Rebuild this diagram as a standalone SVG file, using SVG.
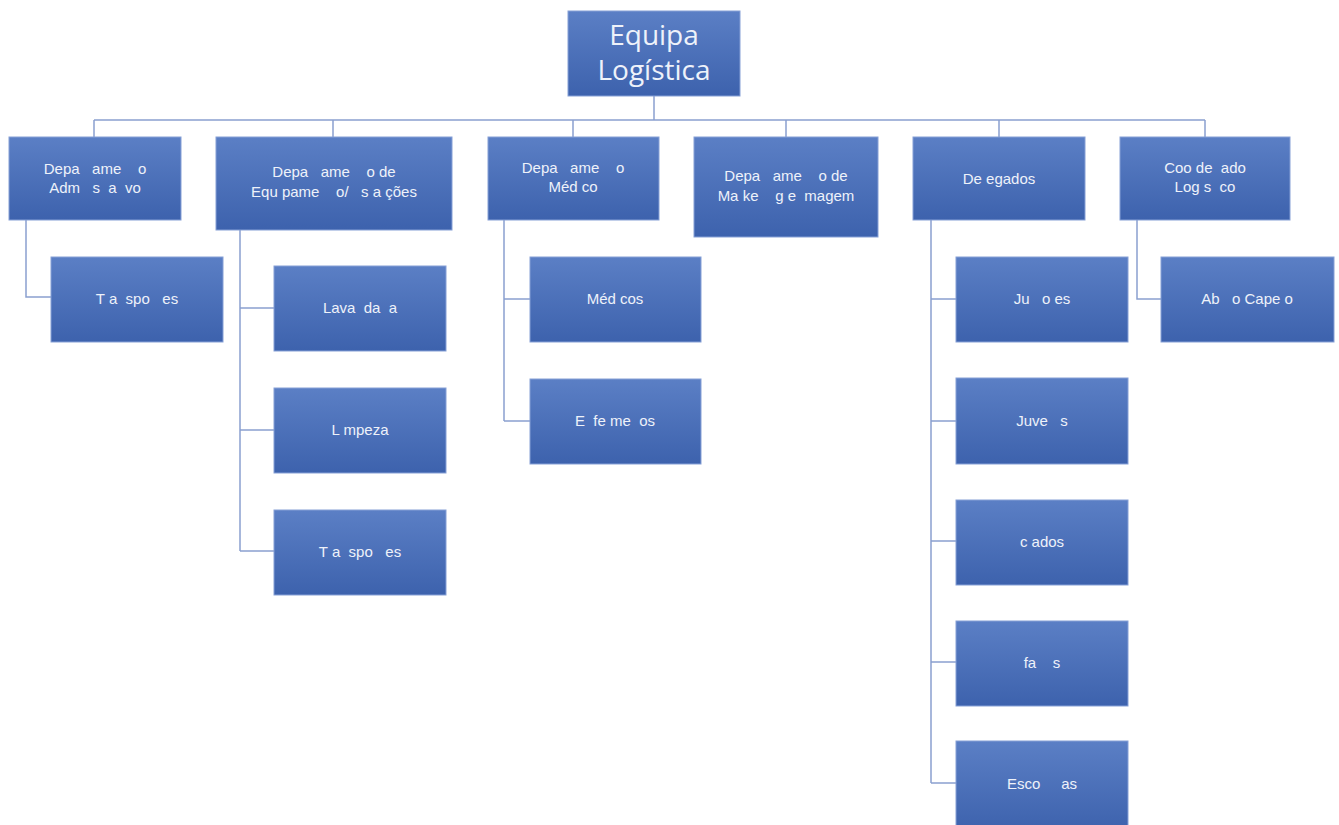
<svg xmlns="http://www.w3.org/2000/svg" width="1339" height="825" viewBox="0 0 1339 825">
<defs>
<linearGradient id="g" x1="0" y1="0" x2="0" y2="1">
<stop offset="0" stop-color="#5b7fc5"/>
<stop offset="1" stop-color="#3d62ad"/>
</linearGradient>
<style>
.box{fill:url(#g);stroke:#86a0d6;stroke-width:1}
.t{font-family:"Liberation Sans",Arial,sans-serif;font-size:15px;fill:#eef2fa;text-anchor:middle;white-space:pre}
.big{font-family:"Open Sans","Liberation Sans",sans-serif;font-size:28px;fill:#eef2fa;text-anchor:middle}
.c{fill:none;stroke:#8aa0d0;stroke-width:1.5}
</style>
</defs>
<rect width="1339" height="825" fill="#ffffff"/>
<g id="connectors">
<path class="c" d="M654 96V120M94 120H1205M94 120V137M333 120V137M573 120V137M786 120V137M999 120V137M1205 120V137"/>
<path class="c" d="M26 220V297H51"/>
<path class="c" d="M240 230V551M240 308H274M240 430H274M240 551H274"/>
<path class="c" d="M504 220V421M504 299H530M504 421H530"/>
<path class="c" d="M931 220V783M931 299H956M931 421H956M931 541H956M931 662H956M931 783H956"/>
<path class="c" d="M1137 220V299H1161"/>
</g>
<g id="root"><rect class="box" x="568" y="11" width="172" height="85"/><text class="big" x="654" y="45">Equipa</text><text class="big" x="654" y="80">Logística</text></g>
<g id="n1"><rect class="box" x="9" y="137" width="172" height="83"/><text class="t" x="95" y="174">Depa   ame    o</text><text class="t" x="95" y="193">Adm   s  a  vo</text></g>
<g id="n2"><rect class="box" x="216" y="137" width="236" height="93"/><text class="t" x="334" y="177">Depa   ame    o de</text><text class="t" x="334" y="197">Equ pame    o/   s a ções</text></g>
<g id="n3"><rect class="box" x="488" y="137" width="171" height="83"/><text class="t" x="573" y="173">Depa   ame    o</text><text class="t" x="573" y="192">Méd co</text></g>
<g id="n4"><rect class="box" x="694" y="137" width="184" height="100"/><text class="t" x="786" y="181">Depa   ame    o de</text><text class="t" x="786" y="201">Ma ke    g e  magem</text></g>
<g id="n5"><rect class="box" x="913" y="137" width="172" height="83"/><text class="t" x="999" y="184">De egados</text></g>
<g id="n6"><rect class="box" x="1120" y="137" width="170" height="83"/><text class="t" x="1205" y="173">Coo de  ado</text><text class="t" x="1205" y="192">Log s  co</text></g>
<g id="n1a"><rect class="box" x="51" y="257" width="172" height="85"/><text class="t" x="137" y="304">T a  spo   es</text></g>
<g id="n2a"><rect class="box" x="274" y="266" width="172" height="85"/><text class="t" x="360" y="313">Lava  da  a</text></g>
<g id="n2b"><rect class="box" x="274" y="388" width="172" height="85"/><text class="t" x="360" y="435">L mpeza</text></g>
<g id="n2c"><rect class="box" x="274" y="510" width="172" height="85"/><text class="t" x="360" y="557">T a  spo   es</text></g>
<g id="n3a"><rect class="box" x="530" y="257" width="171" height="85"/><text class="t" x="615" y="304">Méd cos</text></g>
<g id="n3b"><rect class="box" x="530" y="379" width="171" height="85"/><text class="t" x="615" y="426">E  fe me  os</text></g>
<g id="n5a"><rect class="box" x="956" y="257" width="172" height="85"/><text class="t" x="1042" y="304">Ju   o es</text></g>
<g id="n5b"><rect class="box" x="956" y="378" width="172" height="86"/><text class="t" x="1042" y="426">Juve   s</text></g>
<g id="n5c"><rect class="box" x="956" y="500" width="172" height="85"/><text class="t" x="1042" y="547">c ados</text></g>
<g id="n5d"><rect class="box" x="956" y="621" width="172" height="85"/><text class="t" x="1042" y="668">fa    s</text></g>
<g id="n5e"><rect class="box" x="956" y="741" width="172" height="90"/><text class="t" x="1042" y="789">Esco     as</text></g>
<g id="n6a"><rect class="box" x="1161" y="257" width="173" height="85"/><text class="t" x="1247" y="304">Ab   o Cape o</text></g>
</svg>
